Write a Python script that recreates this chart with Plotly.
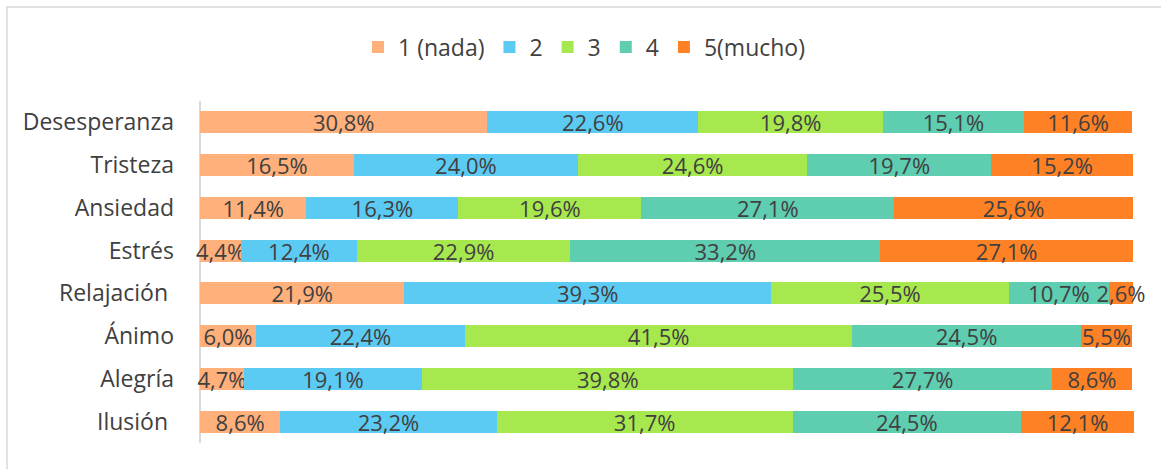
import plotly.graph_objects as go

# Emotions (top to bottom) and share of answers for each level of the 1–5 scale
emociones = ["Desesperanza", "Tristeza", "Ansiedad", "Estrés",
             "Relajación\u00a0", "Ánimo", "Alegría", "Ilusión\u00a0"]

nivel_1 = [30.8, 16.5, 11.4, 4.4, 21.9, 6.0, 4.7, 8.6]
nivel_2 = [22.6, 24.0, 16.3, 12.4, 39.3, 22.4, 19.1, 23.2]
nivel_3 = [19.8, 24.6, 19.6, 22.9, 25.5, 41.5, 39.8, 31.7]
nivel_4 = [15.1, 19.7, 27.1, 33.2, 10.7, 24.5, 27.7, 24.5]
nivel_5 = [11.6, 15.2, 25.6, 27.1, 2.6, 5.5, 8.6, 12.1]

nombres = ["1 (nada)", "2", "3", "4", "5(mucho)"]
colores = ["#FFB07B", "#5CCBF4", "#A8E84F", "#5ECDB0", "#FF8126"]
series = [nivel_1, nivel_2, nivel_3, nivel_4, nivel_5]

FONT = "Open Sans"
GRIS_TEXTO = "#404040"

fig = go.Figure()
for nombre, valores, color in zip(nombres, series, colores):
    fig.add_trace(go.Bar(
        y=emociones,
        x=valores,
        name=nombre,
        orientation="h",
        marker=dict(color=color, line=dict(width=0)),
        texttemplate="%{x:.1f}%",
        textposition="inside",
        insidetextanchor="middle",
        constraintext="none",
        textfont=dict(family=FONT, size=22, color=GRIS_TEXTO),
        cliponaxis=False,
        hoverinfo="skip",
    ))

fig.update_layout(
    barmode="stack",
    bargap=0.49,
    width=1161,
    height=469,
    margin=dict(l=178, r=27, t=101, b=26),
    paper_bgcolor="white",
    plot_bgcolor="white",
    separators=", ",
    uniformtext=dict(mode=False),
    font=dict(family=FONT, size=22, color=GRIS_TEXTO),
    showlegend=True,
    legend=dict(
        orientation="h",
        x=0.4247, xanchor="center",
        y=1.158, yanchor="middle",
        font=dict(family=FONT, size=23, color=GRIS_TEXTO),
        traceorder="normal",
        itemclick=False,
    ),
    xaxis=dict(
        range=[-2.36, 100.1],
        visible=False,
        fixedrange=True,
    ),
    yaxis=dict(
        autorange="reversed",
        showline=False,
        showgrid=False,
        ticks="",
        ticklabelstandoff=3,
        tickfont=dict(family=FONT, size=23, color=GRIS_TEXTO),
        fixedrange=True,
    ),
    shapes=[
        # category axis line at 0 %
        dict(type="line", xref="x", yref="paper",
             x0=0, x1=0, y0=0, y1=1,
             line=dict(color="#D9D9D9", width=2), layer="below"),
        # chart frame (continues past the right and bottom edges)
        dict(type="rect", xref="paper", yref="paper",
             x0=-0.1789, x1=1.2, y0=-0.3, y1=1.2749,
             line=dict(color="#D9D9D9", width=1.5),
             fillcolor="rgba(0,0,0,0)", layer="below"),
    ],
)

fig.write_html("out.html")
